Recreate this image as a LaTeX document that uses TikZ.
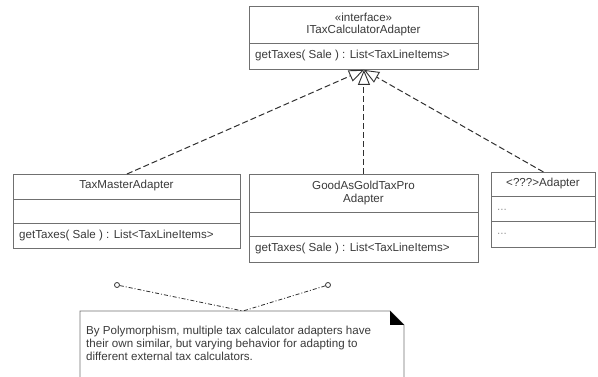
\documentclass[tikz,border=0pt]{standalone}
\usepackage{fontspec}
\setmainfont{Liberation Sans}
\usetikzlibrary{arrows.meta}
\definecolor{umlline}{HTML}{707070}
\definecolor{umltext}{HTML}{3A3A3A}
\definecolor{umldim}{HTML}{9A9A9A}
\definecolor{umldash}{HTML}{303030}
\begin{document}
\begin{tikzpicture}[x=1pt,y=-1pt,
  font=\fontsize{11.6}{13}\selectfont, text=umltext,
  classbox/.style={draw=umlline, line width=0.9pt, fill=white, inner sep=0pt, anchor=north west},
  sepline/.style={draw=umlline, line width=0.9pt},
  member/.style={anchor=west, inner sep=0pt},
  realize/.style={draw=umldash, line width=1pt, dash pattern=on 6pt off 3pt,
    -{Triangle[open, fill=white, length=15pt, width=12pt, line width=0.9pt]}},
  notelink/.style={draw=umldash, line width=0.8pt, dash pattern=on 4pt off 2pt on 1pt off 2pt},
  anchorcirc/.style={circle, draw=umldash, line width=0.8pt, fill=white, inner sep=0pt, minimum size=5pt}]
\useasboundingbox (0,0) rectangle (598,377);

% interface
\node[classbox, minimum width=229pt, minimum height=63pt] (iface) at (249,6) {};
\draw[sepline] (iface.west |- 0,43) -- (iface.east |- 0,43);
\node (ifst) at (363.5,17) {«interface»};
\node (ifname) at (363.5,31) {ITaxCalculatorAdapter};
\node[member] (ifop) at (255,56) {getTaxes( Sale ) : List<TaxLineItems>};

% TaxMasterAdapter
\node[classbox, minimum width=227pt, minimum height=74pt] (tm) at (13,174) {};
\draw[sepline] (tm.west |- 0,199) -- (tm.east |- 0,199);
\draw[sepline] (tm.west |- 0,223) -- (tm.east |- 0,223);
\node (tmname) at (126.5,186) {TaxMasterAdapter};
\node[member] (tmop) at (19,236) {getTaxes( Sale ) : List<TaxLineItems>};

% GoodAsGoldTaxProAdapter
\node[classbox, minimum width=229pt, minimum height=88pt] (gg) at (249,174) {};
\draw[sepline] (gg.west |- 0,212) -- (gg.east |- 0,212);
\draw[sepline] (gg.west |- 0,236) -- (gg.east |- 0,236);
\node[align=center] (ggname) at (363.5,193) {GoodAsGoldTaxPro\\Adapter};
\node[member] (ggop) at (255,249) {getTaxes( Sale ) : List<TaxLineItems>};

% <???>Adapter
\node[classbox, minimum width=104pt, minimum height=75pt] (un) at (491,172) {};
\draw[sepline] (un.west |- 0,196) -- (un.east |- 0,196);
\draw[sepline] (un.west |- 0,221) -- (un.east |- 0,221);
\node (unname) at (543,184) {<???>Adapter};
\node[member, text=umldim] (una) at (497,210) {...};
\node[member, text=umldim] (unb) at (497,234) {...};

% realizations
\draw[realize] (tm.north) -- (iface.south);
\draw[realize] (un.north) -- (iface.south);
\draw[realize] (gg.north) -- (iface.south);

% note
\draw[umlline, line width=0.9pt] (80,380) -- (80,311) -- (390,311) -- (404,325) -- (404,380);
\fill[black] (390,311) -- (390,325) -- (404,325) -- cycle;
\coordinate (notetop) at (243,311);
\node[anchor=north west, align=left, inner sep=0pt] (notetext) at (86,326)
  {By Polymorphism, multiple tax calculator adapters have\\their own similar, but varying behavior for adapting to\\different external tax calculators.};
\node[anchorcirc] (c1) at (117,285) {};
\node[anchorcirc] (c2) at (328,285) {};
\draw[notelink] (c1) -- (notetop);
\draw[notelink] (c2) -- (notetop);
\end{tikzpicture}
\end{document}
